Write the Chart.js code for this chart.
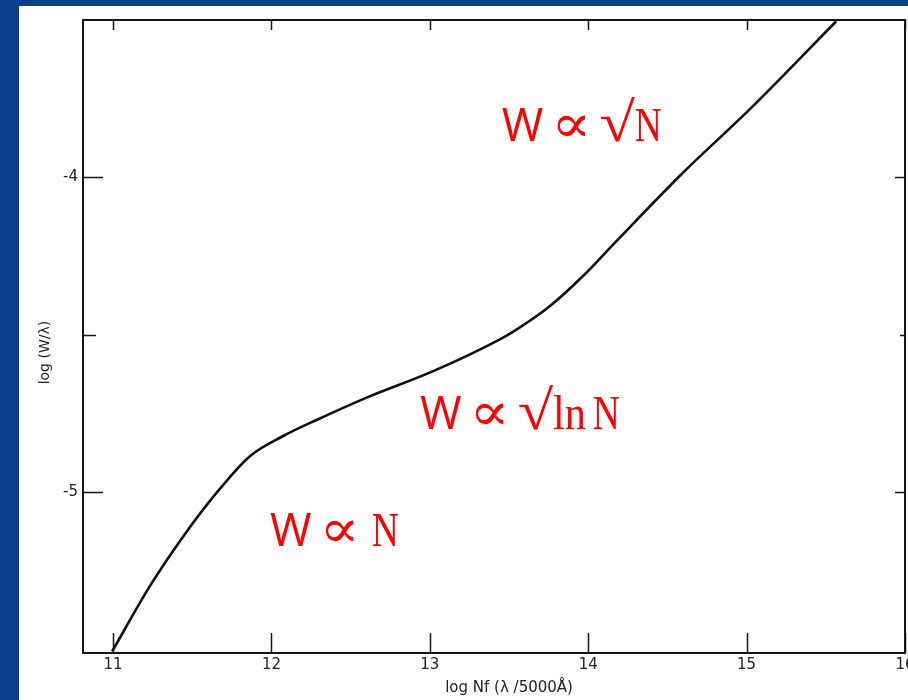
<!DOCTYPE html>
<html><head><meta charset="utf-8">
<script src="https://cdn.jsdelivr.net/npm/chart.js@4/dist/chart.umd.min.js"></script>
<style>
html,body{margin:0;padding:0;overflow:hidden;background:#0b3d8a}
#wrap{position:relative;width:908px;height:700px}
</style></head>
<body><div id="wrap"><canvas id="c"></canvas></div>
<script>
// Curve of growth: log Nf (λ/5000Å) vs log (W/λ)
const logNf = [10.994, 11.233, 11.444, 11.654, 11.864, 12.074, 12.285, 12.601,
               13.021, 13.442, 13.547, 13.757, 13.967, 14.178, 14.598, 15.019, 15.566];
const logWl = [-5.505, -5.297, -5.139, -5.001, -4.885, -4.821, -4.770, -4.699,
               -4.615, -4.514, -4.483, -4.409, -4.313, -4.202, -3.985, -3.784, -3.504];
const xTickValues = [11, 12, 13, 14, 15, 16];
const yTickValues = [-5, -4];
const yMinorTickValues = [-4.5];
const xTitle = 'log Nf (\u03bb /5000\u00c5)';
const yTitle = 'log (W/\u03bb)';
const regimeLabels = ['W \u221d \u221aN', 'W \u221d \u221alnN', 'W \u221d N'];
const regimeX = [13.454, 12.937, 11.99];
const regimeY = [-3.883, -4.80, -5.171];
const xTitleAt = 13.5;
const yTitleAt = -4.556;

const INK = '#151515';
const LABEL_FONT = "'DejaVu Sans',sans-serif";

function drawRegime(ctx, text, x0, y0) {
  let cx = x0;
  let prev = '';
  const SERIF = "'Liberation Serif','DejaVu Serif',serif";
  for (const ch of text) {
    if (ch === ' ') { cx += 8; prev = ch; continue; }
    let font, sx, dy = 0, extra = 0;
    if (ch === 'W') { font = "45px 'Open Sans'"; sx = 1; }
    else if (ch === '\u221d') { font = "54px 'DejaVu Serif'"; sx = 1.1; dy = 1; }
    else if (ch === '\u221a') { font = '56px ' + SERIF; sx = 1.15; }
    else if (ch === ch.toLowerCase()) { font = '48px ' + SERIF; sx = 0.88; if (ch === 'n') extra = 7; }
    else { font = '48px ' + SERIF; sx = 0.78; if (prev === ' ') cx += 4; }
    ctx.save();
    ctx.font = font;
    const w = ctx.measureText(ch).width * sx;
    ctx.translate(cx, y0 + dy);
    ctx.scale(sx, 1);
    ctx.fillText(ch, 0, 0);
    ctx.restore();
    cx += w + extra;
    prev = ch;
  }
}

const framePlugin = {
  id: 'frame',
  beforeDraw(chart) {
    const {ctx, width, height} = chart;
    ctx.save();
    ctx.fillStyle = '#0b3d8a';
    ctx.fillRect(0, 0, width, height);
    ctx.fillStyle = '#ffffff';
    ctx.fillRect(19, 6, width - 19, height - 6);
    ctx.restore();
  },
  afterDraw(chart) {
    const {ctx, chartArea: a, scales: {x, y}} = chart;
    ctx.save();
    ctx.strokeStyle = INK;
    ctx.lineWidth = 2;
    ctx.strokeRect(a.left, a.top, a.right - a.left, a.bottom - a.top);
    ctx.lineWidth = 1.5;
    ctx.beginPath();
    xTickValues.forEach(v => {
      const px = Math.round(x.getPixelForValue(v)) + 0.5;
      ctx.moveTo(px, a.bottom); ctx.lineTo(px, a.bottom - 20);
      ctx.moveTo(px, a.top); ctx.lineTo(px, a.top + 10);
    });
    yTickValues.forEach(v => {
      const py = Math.round(y.getPixelForValue(v)) + 0.5;
      ctx.moveTo(a.left, py); ctx.lineTo(a.left + 20, py);
      ctx.moveTo(a.right, py); ctx.lineTo(a.right - 10, py);
    });
    yMinorTickValues.forEach(v => {
      const py = Math.round(y.getPixelForValue(v)) + 0.5;
      ctx.moveTo(a.left, py); ctx.lineTo(a.left + 13, py);
      ctx.moveTo(a.right, py); ctx.lineTo(a.right - 5, py);
    });
    ctx.stroke();

    // axis titles
    ctx.fillStyle = '#222';
    ctx.font = '15px ' + LABEL_FONT;
    ctx.textAlign = 'center';
    ctx.textBaseline = 'middle';
    ctx.fillText(xTitle, x.getPixelForValue(xTitleAt), 688);
    ctx.save();
    ctx.translate(45, y.getPixelForValue(yTitleAt));
    ctx.rotate(-Math.PI / 2);
    ctx.font = '14px ' + LABEL_FONT;
    ctx.fillText(yTitle, 0, 0);
    ctx.restore();

    // regime annotations
    ctx.fillStyle = '#ff0000';
    ctx.textAlign = 'left';
    ctx.textBaseline = 'alphabetic';
    regimeLabels.forEach((t, i) => {
      drawRegime(ctx, t, x.getPixelForValue(regimeX[i]), y.getPixelForValue(regimeY[i]));
    });
    ctx.restore();
  }
};

new Chart(document.getElementById('c'), {
  type: 'line',
  data: {
    datasets: [{
      data: logNf.map((v, i) => ({x: v, y: logWl[i]})),
      borderColor: '#111111',
      borderWidth: 2.6,
      pointRadius: 0,
      cubicInterpolationMode: 'monotone',
      fill: false
    }]
  },
  options: {
    responsive: true,
    maintainAspectRatio: false,
    animation: false,
    events: [],
    layout: {padding: {top: 20, right: 3, left: 0, bottom: 0}},
    plugins: {legend: {display: false}, tooltip: {enabled: false}},
    scales: {
      x: {
        type: 'linear', min: 10.81, max: 16,
        grid: {display: false, drawTicks: false}, border: {display: false},
        afterBuildTicks(s) { s.ticks = xTickValues.map(v => ({value: v})); },
        afterFit(s) { s.height = 47; s.paddingLeft = 0; s.paddingRight = 0; },
        ticks: {padding: 3, color: '#222', maxRotation: 0, autoSkip: false,
                font: {family: LABEL_FONT, size: 15}, callback: v => String(v)}
      },
      y: {
        type: 'linear', min: -5.51, max: -3.5,
        grid: {display: false, drawTicks: false}, border: {display: false},
        afterBuildTicks(s) { s.ticks = yTickValues.map(v => ({value: v})); },
        afterFit(s) { s.width = 83; s.paddingTop = 0; s.paddingBottom = 0; },
        ticks: {padding: 5, color: '#222', autoSkip: false,
                font: {family: LABEL_FONT, size: 15}, callback: v => String(v)}
      }
    }
  },
  plugins: [framePlugin]
});
</script>
</body></html>
